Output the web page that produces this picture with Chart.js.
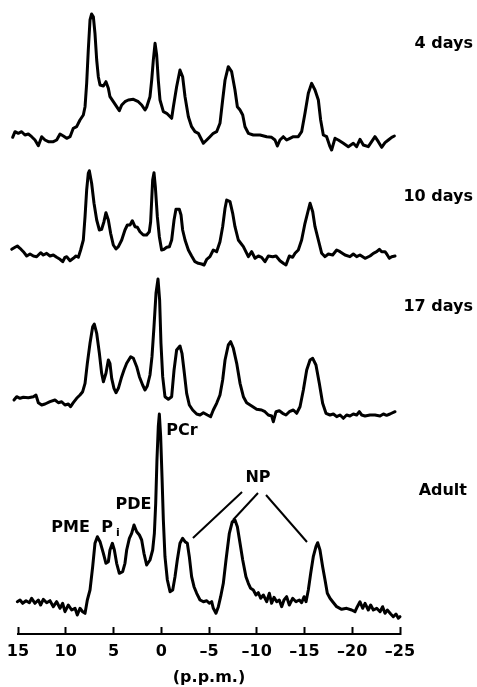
<!DOCTYPE html>
<html>
<head>
<meta charset="utf-8">
<script src="https://cdn.jsdelivr.net/npm/chart.js@4.4.1/dist/chart.umd.min.js"></script>
<style>
  html, body { margin: 0; padding: 0; background: #fff; }
  canvas { display: block; }
</style>
</head>
<body>
<canvas id="spectra" width="477" height="687"></canvas>
<script>
// ========== DATA (chemical shift in p.p.m., signal in arbitrary units) ==========
const ppmTicks = [15, 10, 5, 0, -5, -10, -15, -20, -25];
const spectrumNames = ['4 days', '10 days', '17 days', 'Adult'];

const ppm4d = [15.56, 15.31, 14.97, 14.62, 14.27, 13.92, 13.57, 13.22, 12.87, 12.52,
  12.17, 11.82, 11.30, 10.95, 10.60, 10.25, 9.90, 9.55, 9.21, 8.86,
  8.51, 8.16, 7.98, 7.81, 7.64, 7.46, 7.29, 7.11, 6.94, 6.76,
  6.59, 6.41, 6.06, 5.79, 5.54, 5.37, 5.02, 4.67, 4.39, 4.14,
  3.80, 3.45, 2.92, 2.40, 2.05, 1.70, 1.53, 1.18, 1.00, 0.83,
  0.65, 0.48, 0.31, 0.13, -0.22, -0.57, -1.09, -1.27, -1.61, -1.96,
  -2.24, -2.49, -2.84, -3.18, -3.53, -3.88, -4.41, -4.76, -5.10, -5.45,
  -5.80, -6.15, -6.43, -6.68, -7.02, -7.37, -7.72, -7.97, -8.25, -8.53,
  -8.77, -9.12, -9.64, -10.34, -11.04, -11.56, -11.91, -12.16, -12.43, -12.78,
  -13.13, -13.48, -13.83, -14.35, -14.70, -15.05, -15.40, -15.75, -16.10, -16.45,
  -16.69, -16.97, -17.32, -17.67, -17.84, -18.19, -18.54, -19.07, -19.59, -20.11,
  -20.46, -20.81, -21.16, -21.68, -22.03, -22.38, -22.73, -23.08, -23.43, -23.78,
  -24.13, -24.41];
const int4d = [-0.3, 5.3, 3.7, 5.3, 2, 3, 0.3, -3, -8.7, 0.3,
  -3, -4.7, -4.7, -3, 3, 1, -1.3, 0.3, 8.7, 10.3,
  17, 22, 30.3, 53.7, 87, 117, 123, 120.3, 103.7, 77,
  60.3, 52, 51, 55.3, 48.7, 40.3, 35.3, 30.3, 26.3, 32,
  35.3, 37, 37.7, 35.3, 32, 27, 29.7, 40.3, 57, 77,
  93.7, 82, 57, 37, 25.3, 23.7, 18.7, 30.3, 50.3, 67,
  60.3, 40.3, 20.3, 10.3, 5.3, 3.7, -6.3, -3, 0.3, 3.7,
  5.3, 13.7, 37, 57, 70.3, 65.3, 47, 30.3, 27, 22,
  10.3, 3.7, 2, 2, 0.3, -0.3, -3, -9, -3, 0.3,
  -3, -1.3, 0.3, 0.3, 5.3, 23.7, 43.7, 53.7, 47, 37,
  17, 2, 0.3, -9.7, -13, -1.3, -3, -6.3, -9.7, -6.3,
  -9.7, -2.3, -8, -9.7, -4.7, 0.3, -4.7, -10.3, -5.7, -3,
  -0.3, 1];

const ppm10d = [15.66, 15.31, 15.07, 14.79, 14.44, 14.09, 13.74, 13.39, 13.05, 12.63,
  12.35, 12.00, 11.65, 11.30, 10.95, 10.60, 10.32, 10.08, 9.90, 9.55,
  9.21, 8.93, 8.68, 8.44, 8.16, 7.98, 7.81, 7.64, 7.53, 7.29,
  7.04, 6.76, 6.48, 6.24, 6.00, 5.79, 5.54, 5.30, 5.02, 4.74,
  4.49, 4.14, 3.80, 3.55, 3.27, 3.03, 2.75, 2.50, 2.23, 1.88,
  1.53, 1.25, 1.11, 1.00, 0.90, 0.76, 0.62, 0.41, 0.20, -0.04,
  -0.29, -0.57, -0.85, -1.09, -1.34, -1.54, -1.89, -2.07, -2.24, -2.49,
  -2.84, -3.18, -3.53, -3.88, -4.23, -4.48, -4.76, -5.10, -5.45, -5.80,
  -6.15, -6.43, -6.68, -6.85, -7.20, -7.48, -7.72, -8.07, -8.60, -9.12,
  -9.47, -9.82, -10.17, -10.51, -10.86, -11.21, -11.67, -12.02, -12.43, -12.78,
  -13.06, -13.41, -13.76, -14.01, -14.35, -14.70, -15.05, -15.40, -15.58, -15.86,
  -16.10, -16.45, -16.80, -17.15, -17.50, -17.95, -18.37, -18.72, -19.24, -19.76,
  -20.11, -20.46, -20.81, -21.34, -21.86, -22.21, -22.56, -22.84, -23.08, -23.43,
  -23.61, -23.88, -24.13, -24.48];
const int10d = [5.7, 7.7, 9, 6.7, 3.3, -1, 1, -1, -1.7, 2.3,
  0, 1.7, -1, 0, -2.3, -4.3, -6.7, -2.3, -1.7, -5.7,
  -3.3, -1, -2.3, 5, 15, 38.3, 65, 81.7, 84.3, 71.7,
  51.7, 35, 25, 25.7, 33.3, 42.3, 35, 21.7, 10, 6,
  8.3, 15, 25, 30, 30, 34.3, 28.3, 27.7, 23.3, 20,
  20, 23.3, 33.3, 55, 75, 82.3, 68.3, 38.3, 18.3, 5,
  5.7, 7.7, 8.3, 15, 35, 45.7, 45.7, 40, 25, 15,
  5, -1, -6.7, -8.3, -9, -10, -4.3, -1.7, 5, 3.3,
  13.3, 28.3, 46.7, 55, 53.3, 41.7, 28.3, 15, 8.3, -1.7,
  3.3, -3.3, -1, -2.3, -6.7, -1, -1.7, -1, -5.7, -8.3,
  -10, -1, -2.3, 1.7, 5, 15, 31.7, 45, 51.7, 43.3,
  28.3, 15, 1.7, -1.7, 1, 0, 5, 3.3, 0, -1.7,
  1, -1.7, 0, -3.3, -1, 1.7, 3.3, 5.7, 3.3, 3.3,
  1, -3.3, -1.7, -1];

const ppm17d = [15.42, 15.14, 14.79, 14.44, 13.92, 13.39, 13.12, 12.87, 12.52, 12.17,
  11.65, 11.13, 10.78, 10.43, 10.08, 9.73, 9.49, 9.21, 8.86, 8.51,
  8.23, 7.98, 7.74, 7.46, 7.18, 7.01, 6.76, 6.48, 6.24, 6.06,
  5.79, 5.54, 5.37, 5.19, 4.95, 4.74, 4.49, 4.14, 3.90, 3.62,
  3.20, 2.92, 2.57, 2.29, 1.95, 1.70, 1.46, 1.18, 0.97, 0.76,
  0.55, 0.34, 0.17, 0.03, -0.15, -0.39, -0.74, -1.09, -1.34, -1.61,
  -1.96, -2.17, -2.38, -2.66, -2.94, -3.29, -3.71, -4.06, -4.41, -4.83,
  -5.17, -5.45, -5.80, -6.15, -6.43, -6.68, -7.02, -7.27, -7.55, -7.90,
  -8.25, -8.60, -8.94, -9.47, -9.99, -10.51, -10.86, -11.21, -11.56, -11.74,
  -12.02, -12.36, -12.71, -13.06, -13.41, -13.83, -14.18, -14.53, -14.88, -15.23,
  -15.58, -15.86, -16.20, -16.55, -16.90, -17.25, -17.67, -18.02, -18.37, -18.72,
  -19.07, -19.41, -19.76, -20.11, -20.46, -20.74, -20.99, -21.34, -21.86, -22.38,
  -22.91, -23.26, -23.60, -23.95, -24.48];
const int17d = [5, 8.3, 6.7, 7.7, 7.3, 8.3, 10, 2.3, 0, 1,
  3.3, 5, 2.3, 3.3, 0, 1, -1.7, 2.3, 6.7, 10,
  13.3, 21.7, 41.7, 61.7, 78.3, 81, 71.7, 51.7, 31.7, 23.3,
  31.7, 45, 41.7, 26.7, 16.7, 12.3, 16.7, 28.3, 35, 41.7,
  48.3, 46.7, 38.3, 28.3, 20, 15, 19, 30, 48.3, 78.3,
  111.7, 126, 105, 61.7, 28.3, 8.3, 5.7, 8.3, 35, 55,
  59, 51.7, 35, 11.7, 0, -5, -9, -10, -7.7, -10,
  -11.7, -5, 1.7, 10, 25, 45, 60, 63.3, 56.7, 41.7,
  21.7, 8.3, 2.3, -1, -4.3, -5, -6.7, -10, -11, -16.7,
  -6.7, -5.7, -8.3, -10, -6.7, -5, -8.3, -1.7, 15, 35,
  45, 46.7, 40, 21.7, 1.7, -8.3, -10, -9, -11.7, -10,
  -13.3, -10, -11, -9, -10, -6.7, -10, -11, -10, -10,
  -11, -9, -10.3, -9, -6.7];

const ppmAdult = [15.07, 14.79, 14.51, 14.16, 13.81, 13.57, 13.22, 12.87, 12.63, 12.35,
  12.00, 11.65, 11.30, 10.95, 10.60, 10.32, 10.08, 9.73, 9.38, 9.03,
  8.79, 8.51, 8.23, 7.98, 7.74, 7.46, 7.18, 6.94, 6.69, 6.41,
  6.06, 5.79, 5.54, 5.37, 5.12, 4.91, 4.67, 4.39, 4.04, 3.80,
  3.62, 3.34, 3.10, 2.85, 2.57, 2.29, 2.05, 1.81, 1.53, 1.18,
  0.90, 0.72, 0.58, 0.45, 0.31, 0.20, 0.06, -0.08, -0.22, -0.39,
  -0.64, -0.92, -1.20, -1.44, -1.68, -1.96, -2.24, -2.49, -2.73, -2.94,
  -3.18, -3.43, -3.71, -4.06, -4.41, -4.76, -5.03, -5.28, -5.45, -5.73,
  -5.98, -6.22, -6.50, -6.78, -7.13, -7.44, -7.72, -7.97, -8.25, -8.53,
  -8.87, -9.12, -9.36, -9.64, -9.92, -10.17, -10.41, -10.69, -11.04, -11.32,
  -11.56, -11.81, -12.09, -12.36, -12.61, -12.85, -13.13, -13.41, -13.76, -14.11,
  -14.46, -14.70, -14.95, -15.16, -15.40, -15.65, -15.92, -16.20, -16.38, -16.62,
  -16.90, -17.15, -17.39, -17.67, -17.95, -18.37, -18.89, -19.41, -19.94, -20.29,
  -20.53, -20.81, -21.09, -21.34, -21.68, -21.93, -22.21, -22.56, -22.91, -23.18,
  -23.43, -23.67, -24.03, -24.30, -24.58, -24.83, -25.00];
const intAdult = [3.3, 5, 1.7, 4.3, 2.3, 6.7, 1.7, 5, 0, 5.7,
  2.3, 4.3, -1.7, 3.3, -3.3, 1.7, -6.7, 0, -5, -3.3,
  -10, -3.3, -6.7, -8.3, 5, 15, 38.3, 61.7, 68.3, 63.3,
  51.7, 41.7, 43.3, 55, 61.7, 55, 41.7, 31.7, 33.3, 41.7,
  55, 66.7, 71.7, 80, 73.3, 70, 65, 51.7, 40, 45,
  55, 71.7, 101.7, 145, 178.3, 191, 168.3, 128.3, 85, 48.3,
  25, 13.3, 15, 28.3, 45, 61.7, 66.7, 63.3, 61.7, 48.3,
  28.3, 18.3, 11.7, 5, 3.3, 4.3, 1.7, 3.3, -3.3, -8.3,
  -1.7, 8.3, 21.7, 45, 71.7, 83.3, 85, 78.3, 61.7, 45,
  28.3, 21.7, 16.7, 15, 10, 12.3, 6.7, 10, 3.3, 11.7,
  1.7, 7.7, 3.3, 5, -1.7, 5, 8.3, 0, 6.7, 3.3,
  5, 2.3, 8.3, 3.3, 15, 31.7, 48.3, 58.3, 62.3, 55,
  38.3, 25, 11.7, 6.7, 3.3, -1.7, -4.3, -3.3, -5, -6.7,
  -1.7, 3.3, -3.3, 1.7, -5, 0, -5, -3.3, -6.7, -1.7,
  -8.3, -5, -9, -11.7, -9, -13.3, -11.7];

// peak assignments on the adult trace
const peakNames = ['PME', 'P', 'PDE', 'PCr', 'NP'];
const npPeaks = [-3.32, -7.51, -15.26];

// ========== CHART ==========
const INK = '#000';
const FONT = '"DejaVu Sans", sans-serif';

// baseline of each trace on the stacked y scale
const stackBase = [497, 379, 229, 29];
const traces = [[ppm4d, int4d], [ppm10d, int10d], [ppm17d, int17d], [ppmAdult, intAdult]];

function toPoints(ppm, vals, base) {
    return ppm.map((p, i) => ({ x: p, y: vals[i] + base }));
}

const datasets = traces.map(([ppm, vals], i) => ({
    label: spectrumNames[i],
    data: toPoints(ppm, vals, stackBase[i]),
    borderColor: INK,
    borderWidth: 3,
    borderJoinStyle: 'round',
    borderCapStyle: 'round',
    pointRadius: 0,
    tension: 0,
    clip: false
}));

// text labels + NP leader lines, placed through the scales
const annotate = {
    id: 'annotate',
    afterDatasetsDraw(chart) {
        const { ctx, chartArea } = chart;
        const xs = chart.scales.x, ys = chart.scales.y;
        const adult = stackBase[3];
        const px = v => xs.getPixelForValue(v);
        const py = v => ys.getPixelForValue(v);

        ctx.save();
        ctx.fillStyle = INK;
        ctx.strokeStyle = INK;
        ctx.textBaseline = 'middle';

        // trace names on the right
        ctx.font = 'bold 16px ' + FONT;
        ctx.textAlign = 'right';
        const sideLevels = [93, 58, 98, 114];
        const sideRight = [73, 73, 73, 67];
        spectrumNames.forEach((name, i) => {
            ctx.fillText(name, chartArea.right + sideRight[i], py(stackBase[i] + sideLevels[i]));
        });

        // peak names
        ctx.textAlign = 'center';
        const peakAt = [[9.5, 77], [5.68, 77], [2.91, 100], [-2.17, 174], [-10.13, 127]];
        peakNames.forEach((t, i) => {
            ctx.fillText(t, px(peakAt[i][0]), py(adult + peakAt[i][1]));
        });
        ctx.font = 'bold 11px ' + FONT;
        ctx.fillText('i', px(4.53), py(adult + 72));

        // NP leader lines
        const npFrom = [[-8.46, 113], [-10.13, 112], [-10.97, 110]];
        const npTo = [67, 85, 63];
        ctx.lineWidth = 2;
        npPeaks.forEach((p, i) => {
            ctx.beginPath();
            ctx.moveTo(px(npFrom[i][0]), py(adult + npFrom[i][1]));
            ctx.lineTo(px(p), py(adult + npTo[i]));
            ctx.stroke();
        });
        ctx.restore();
    }
};

new Chart(document.getElementById('spectra'), {
    type: 'line',
    data: { datasets },
    options: {
        responsive: false,
        devicePixelRatio: 1,
        animation: false,
        layout: { padding: { left: 18, right: 77, top: 0, bottom: 0 } },
        plugins: { legend: { display: false }, tooltip: { enabled: false } },
        scales: {
            x: {
                type: 'linear',
                reverse: true,
                min: -25,
                max: 15,
                afterBuildTicks: s => { s.ticks = ppmTicks.map(v => ({ value: v })); },
                afterFit: s => { s.height = 53; s.paddingLeft = 0; s.paddingRight = 0; },
                border: { display: true, color: INK, width: 2 },
                grid: { display: true, drawOnChartArea: false, drawTicks: true, tickLength: -7, tickWidth: 2, tickColor: INK },
                ticks: {
                    color: INK,
                    font: { family: FONT, size: 16, weight: 'bold' },
                    padding: 15,
                    maxRotation: 0,
                    autoSkip: false,
                    callback: v => v < 0 ? '\u2013' + (-v) : String(v)
                },
                title: {
                    display: true,
                    text: '(p.p.m.)',
                    color: INK,
                    font: { family: FONT, size: 16, weight: 'bold' },
                    padding: 0
                }
            },
            y: { display: false, min: 0, max: 634 }
        }
    },
    plugins: [annotate]
});
</script>
</body>
</html>
